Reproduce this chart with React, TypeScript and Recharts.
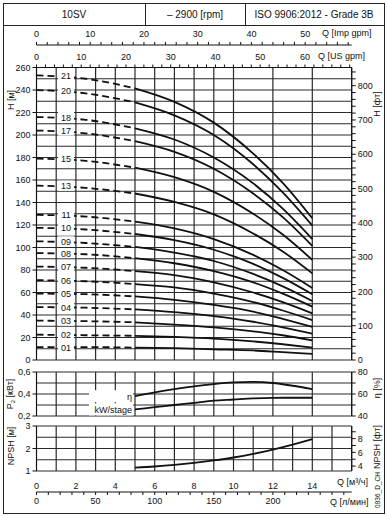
import { LineChart, Line, XAxis, YAxis, CartesianGrid, ReferenceDot } from 'recharts';

const FONT = '"Liberation Sans", Arial, sans-serif';
const INK = '#111';

// flow points for the head curves, m3/h
const flowDash = [0, 2.5, 5];
const flowSolid = [5, 7, 9, 11, 12.5, 14];

const stages = ['21', '20', '18', '17', '15', '13', '11', '10', '09', '08', '07', '06', '05', '04', '03', '02', '01'];

// H [m] at flowDash
const headDash = [
  [253, 250, 241.5],
  [240, 237, 229],
  [216, 213.5, 206],
  [204, 201.5, 194.5],
  [179, 177, 171],
  [155, 153, 148],
  [129, 127.5, 123],
  [117.5, 116, 112],
  [105.5, 104, 100.5],
  [95, 94, 90.5],
  [83, 82, 79],
  [71, 70, 67.5],
  [59, 58.5, 56.5],
  [47, 46.5, 45],
  [35, 34.5, 33.5],
  [22.5, 22, 21.5],
  [11.5, 11.5, 11],
];

// H [m] at flowSolid
const headSolid = [
  [241.5, 229.5, 211, 183.5, 157.5, 126],
  [229, 217.5, 200, 174, 149, 119.5],
  [206, 196, 180, 157, 134.5, 107.5],
  [194.5, 185, 170, 148, 127, 101.5],
  [171, 162.5, 149.5, 130, 111.5, 89],
  [148, 140.5, 129.5, 112.5, 96.5, 77],
  [123, 117, 107.5, 93.5, 80, 64],
  [112, 106.5, 98, 85.5, 73, 58.5],
  [100.5, 95.5, 88, 76.5, 65.5, 52.5],
  [90.5, 86, 79, 69, 59, 47.5],
  [79, 75.5, 69, 60, 51.5, 41.5],
  [67.5, 64.5, 59, 51.5, 44, 35.5],
  [56.5, 53.5, 49, 43, 36.5, 29.5],
  [45, 42.5, 39, 34, 29, 23.5],
  [33.5, 31.5, 29, 25.5, 22, 17.5],
  [21.5, 20.5, 19, 16.5, 14, 11],
  [11, 10.5, 9.5, 8.5, 7, 5.5],
];

// lower panels
const flowLow = [5, 6, 7, 8, 9, 10, 11, 12, 13, 14];
const effPct = [58, 61.5, 64.5, 67, 69, 70.5, 71, 70, 67.5, 64.5];
const kwStage = [0.26, 0.28, 0.3, 0.32, 0.34, 0.35, 0.36, 0.365, 0.366, 0.366];
const npshM = [1.15, 1.2, 1.27, 1.36, 1.47, 1.6, 1.76, 1.95, 2.17, 2.42];

const range = (a: number, b: number, s: number) => {
  const out: number[] = [];
  for (let v = a; v <= b + 1e-9; v += s) out.push(Math.round(v * 1000) / 1000);
  return out;
};

const qGrid = range(0, 16, 1);
const M3H_TO_US = 4.4029;
const M3H_TO_IMP = 3.6662;
const M3H_TO_LPM = 16.6667;
const M_TO_FT = 3.2808;

const tickStyle = { fontSize: 9, fill: INK, fontFamily: FONT };
const comma = (v: number) => String(v).replace('.', ',');

const box = (top: number): React.CSSProperties => ({ position: 'absolute', left: 0, top });

function StageTag(props: any) {
  const { cx, cy, name } = props;
  return (
    <g>
      <rect x={cx - 8} y={cy - 5} width={16} height={10} fill="#fff" />
      <text x={cx} y={cy + 3.5} textAnchor="middle" fontSize={9} fontFamily={FONT} fill={INK}>
        {name}
      </text>
    </g>
  );
}

function SideTag(props: any) {
  const { cx, cy, name } = props;
  return (
    <g>
      <rect x={cx - 46} y={cy - 6} width={44} height={12} fill="#fff" />
      <text x={cx - 3} y={cy + 3.5} textAnchor="end" fontSize={9} fontFamily={FONT} fill={INK}>
        {name}
      </text>
    </g>
  );
}

const Label = ({ x, y, children, rot, size = 9, anchor = 'left' }: any) => (
  <div
    style={{
      position: 'absolute',
      left: x,
      top: y,
      fontFamily: FONT,
      fontSize: size,
      color: INK,
      whiteSpace: 'nowrap',
      transform: rot ? 'translate(-50%,-50%) rotate(-90deg)' : anchor === 'center' ? 'translate(-50%,-50%)' : 'translateY(-50%)',
      lineHeight: 1,
    }}
  >
    {children}
  </div>
);

// two-point data just to span the extra unit axes
const usSpan = [{ x: 0 }, { x: 16 * M3H_TO_US }];
const impSpan = [{ x: 0 }, { x: 16 * M3H_TO_IMP }];
const lpmSpan = [{ x: 0 }, { x: 16 * M3H_TO_LPM }];

export default function App() {
  const gridDark = { stroke: '#2a2a2a', strokeWidth: 1.2 };
  return (
    <div style={{ position: 'absolute', left: 0, top: 0, width: 387, height: 516, background: '#fff', overflow: 'hidden' }}>
      {/* frame + header */}
      <div style={{ position: 'absolute', left: 3, top: 3, width: 380, height: 509, border: '1px solid #222' }} />
      <div style={{ position: 'absolute', left: 3, top: 25, width: 381, height: 1, background: '#222' }} />
      <div style={{ position: 'absolute', left: 145, top: 3, width: 1, height: 22, background: '#222' }} />
      <div style={{ position: 'absolute', left: 245, top: 3, width: 1, height: 22, background: '#222' }} />
      <Label x={74} y={15} size={10} anchor="center">10SV</Label>
      <Label x={195} y={15} size={10} anchor="center">– 2900 [rpm]</Label>
      <Label x={314} y={15} size={10} anchor="center">ISO 9906:2012 - Grade 3B</Label>

      {/* Imp gpm axis */}
      <div style={box(0)}>
        <LineChart width={387} height={516} data={impSpan} margin={{ top: 23, bottom: 469, left: 36.5, right: 35.3 }}>
          <XAxis
            dataKey="x"
            type="number"
            orientation="top"
            height={22}
            domain={[0, 16 * M3H_TO_IMP]}
            ticks={range(0, 58, 2)}
            tickFormatter={(v: number) => (v % 10 === 0 ? String(v) : '')}
            tick={tickStyle}
            tickSize={3}
            tickMargin={5}
            stroke={INK}
            interval={0}
            allowDataOverflow
          />
          <YAxis hide domain={[0, 1]} />
          <Line dataKey={() => 0.5} stroke="none" dot={false} isAnimationActive={false} />
        </LineChart>
      </div>

      {/* main head chart */}
      <div style={box(0)}>
        <LineChart width={387} height={516} data={usSpan} margin={{ top: 45.5, bottom: 156, left: 6.5, right: 1.3 }}>
          <CartesianGrid
            xAxisId="q"
            yAxisId="m"
            verticalValues={qGrid}
            horizontalValues={range(0, 260, 10)}
            {...gridDark}
          />
          <XAxis xAxisId="q" dataKey="q" type="number" domain={[0, 16]} ticks={qGrid} hide allowDataOverflow />
          <XAxis
            xAxisId="us"
            dataKey="x"
            type="number"
            orientation="top"
            height={22}
            domain={[0, 16 * M3H_TO_US]}
            ticks={range(0, 70, 2)}
            tickFormatter={(v: number) => (v % 10 === 0 && v <= 60 ? String(v) : '')}
            tick={tickStyle}
            tickSize={3}
            tickMargin={5}
            stroke={INK}
            interval={0}
            allowDataOverflow
          />
          <YAxis
            yAxisId="m"
            type="number"
            width={30}
            domain={[0, 260]}
            ticks={range(0, 260, 20)}
            tick={tickStyle}
            tickSize={4}
            stroke={INK}
            interval={0}
            allowDataOverflow
          />
          <YAxis
            yAxisId="ft"
            orientation="right"
            type="number"
            width={34}
            domain={[0, 260 * M_TO_FT]}
            ticks={range(0, 840, 20)}
            tickFormatter={(v: number) => (v % 100 === 0 ? String(v) : '')}
            tick={tickStyle}
            tickSize={4}
            stroke={INK}
            interval={0}
            allowDataOverflow
          />
          <Line xAxisId="us" yAxisId="ft" dataKey={() => 0} stroke="none" dot={false} isAnimationActive={false} />
          {stages.map((s, i) => (
            <Line
              key={'d' + s}
              xAxisId="q"
              yAxisId="m"
              data={flowDash.map((q, k) => ({ q, h: headDash[i][k] }))}
              dataKey="h"
              type="monotone"
              stroke={INK}
              strokeWidth={1.8}
              strokeDasharray="7 4"
              dot={false}
              isAnimationActive={false}
            />
          ))}
          {stages.map((s, i) => (
            <Line
              key={'s' + s}
              xAxisId="q"
              yAxisId="m"
              data={flowSolid.map((q, k) => ({ q, h: headSolid[i][k] }))}
              dataKey="h"
              type="monotone"
              stroke={INK}
              strokeWidth={1.8}
              dot={false}
              isAnimationActive={false}
            />
          ))}
          {stages.map((s, i) => (
            <ReferenceDot
              key={'t' + s}
              xAxisId="q"
              yAxisId="m"
              x={1.5}
              y={headDash[i][0]}
              r={0}
              shape={(p: any) => <StageTag {...p} name={s} />}
            />
          ))}
        </LineChart>
      </div>

      {/* power / efficiency */}
      <div style={box(0)}>
        <LineChart width={387} height={516} margin={{ top: 372, bottom: 100, left: 6.5, right: 1.3 }}>
          <CartesianGrid xAxisId="q" yAxisId="kw" verticalValues={qGrid} horizontalValues={[0.2, 0.3, 0.4, 0.5, 0.6]} {...gridDark} />
          <XAxis xAxisId="q" dataKey="q" type="number" domain={[0, 16]} ticks={qGrid} hide allowDataOverflow />
          <YAxis
            yAxisId="kw"
            type="number"
            width={30}
            domain={[0.2, 0.6]}
            ticks={[0.2, 0.4, 0.6]}
            tickFormatter={comma}
            tick={tickStyle}
            tickSize={4}
            stroke={INK}
            interval={0}
            allowDataOverflow
          />
          <YAxis
            yAxisId="eta"
            orientation="right"
            type="number"
            width={34}
            domain={[40, 80]}
            ticks={[40, 50, 60, 70, 80]}
            tickFormatter={(v: number) => (v % 20 === 0 ? String(v) : '')}
            tick={tickStyle}
            tickSize={4}
            stroke={INK}
            interval={0}
            allowDataOverflow
          />
          <Line
            xAxisId="q"
            yAxisId="eta"
            data={flowLow.map((q, k) => ({ q, v: effPct[k] }))}
            dataKey="v"
            type="monotone"
            stroke={INK}
            strokeWidth={1.8}
            dot={false}
            isAnimationActive={false}
          />
          <Line
            xAxisId="q"
            yAxisId="kw"
            data={flowLow.map((q, k) => ({ q, v: kwStage[k] }))}
            dataKey="v"
            type="monotone"
            stroke={INK}
            strokeWidth={1.8}
            dot={false}
            isAnimationActive={false}
          />
          <ReferenceDot xAxisId="q" yAxisId="eta" x={flowLow[0]} y={effPct[0]} r={0} shape={(p: any) => <SideTag {...p} name="η" />} />
          <ReferenceDot xAxisId="q" yAxisId="kw" x={flowLow[0]} y={kwStage[0]} r={0} shape={(p: any) => <SideTag {...p} name="kW/stage" />} />
        </LineChart>
      </div>

      {/* NPSH */}
      <div style={box(0)}>
        <LineChart width={387} height={516} margin={{ top: 426, bottom: 25, left: 6.5, right: 1.3 }}>
          <CartesianGrid xAxisId="q" yAxisId="npsh" verticalValues={qGrid} horizontalValues={[1, 1.5, 2, 2.5, 3]} {...gridDark} />
          <XAxis
            xAxisId="q"
            dataKey="q"
            type="number"
            domain={[0, 16]}
            ticks={range(0, 14, 2)}
            tick={tickStyle}
            tickLine={false}
            axisLine={false}
            height={20}
            tickMargin={6}
            interval={0}
            allowDataOverflow
          />
          <YAxis
            yAxisId="npsh"
            type="number"
            width={30}
            domain={[1, 3]}
            ticks={[1, 2, 3]}
            tick={tickStyle}
            tickSize={4}
            stroke={INK}
            interval={0}
            allowDataOverflow
          />
          <YAxis
            yAxisId="nft"
            orientation="right"
            type="number"
            width={34}
            domain={[1 * M_TO_FT, 3 * M_TO_FT]}
            ticks={[4, 5, 6, 7, 8, 9]}
            tickFormatter={(v: number) => (v % 2 === 0 ? String(v) : '')}
            tick={tickStyle}
            tickSize={4}
            stroke={INK}
            interval={0}
            allowDataOverflow
          />
          <Line
            xAxisId="q"
            yAxisId="npsh"
            data={flowLow.map((q, k) => ({ q, v: npshM[k] }))}
            dataKey="v"
            type="monotone"
            stroke={INK}
            strokeWidth={1.8}
            dot={false}
            isAnimationActive={false}
          />
        </LineChart>
      </div>

      {/* l/min axis */}
      <div style={box(0)}>
        <LineChart width={387} height={516} data={lpmSpan} margin={{ top: 490, bottom: 4, left: 36.5, right: 35.3 }}>
          <XAxis
            dataKey="x"
            type="number"
            domain={[0, 16 * M3H_TO_LPM]}
            ticks={range(0, 260, 10)}
            tickFormatter={(v: number) => (v % 50 === 0 && v <= 200 ? String(v) : '')}
            tick={tickStyle}
            tickSize={3}
            tickMargin={3}
            height={20}
            stroke={INK}
            interval={0}
            allowDataOverflow
          />
          <YAxis hide domain={[0, 1]} />
          <Line dataKey={() => 0.5} stroke="none" dot={false} isAnimationActive={false} />
        </LineChart>
      </div>

      {/* axis titles */}
      <Label x={322} y={33}>Q [Imp gpm]</Label>
      <Label x={318} y={56}>Q [US gpm]</Label>
      <Label x={337} y={482}>Q [м³/ч]</Label>
      <Label x={330} y={502}>Q [л/мин]</Label>
      <Label x={11} y={100} rot>H [м]</Label>
      <Label x={377} y={104} rot>H [фт]</Label>
      <Label x={11} y={394} rot>P<sub style={{ fontSize: 6 }}>2</sub> [кВт]</Label>
      <Label x={377} y={388} rot>η [%]</Label>
      <Label x={11} y={446} rot>NPSH [м]</Label>
      <Label x={377} y={447} rot>NPSH [фт]</Label>
      <Label x={378} y={490} rot size={6.5}>0836_D_CH</Label>
    </div>
  );
}
